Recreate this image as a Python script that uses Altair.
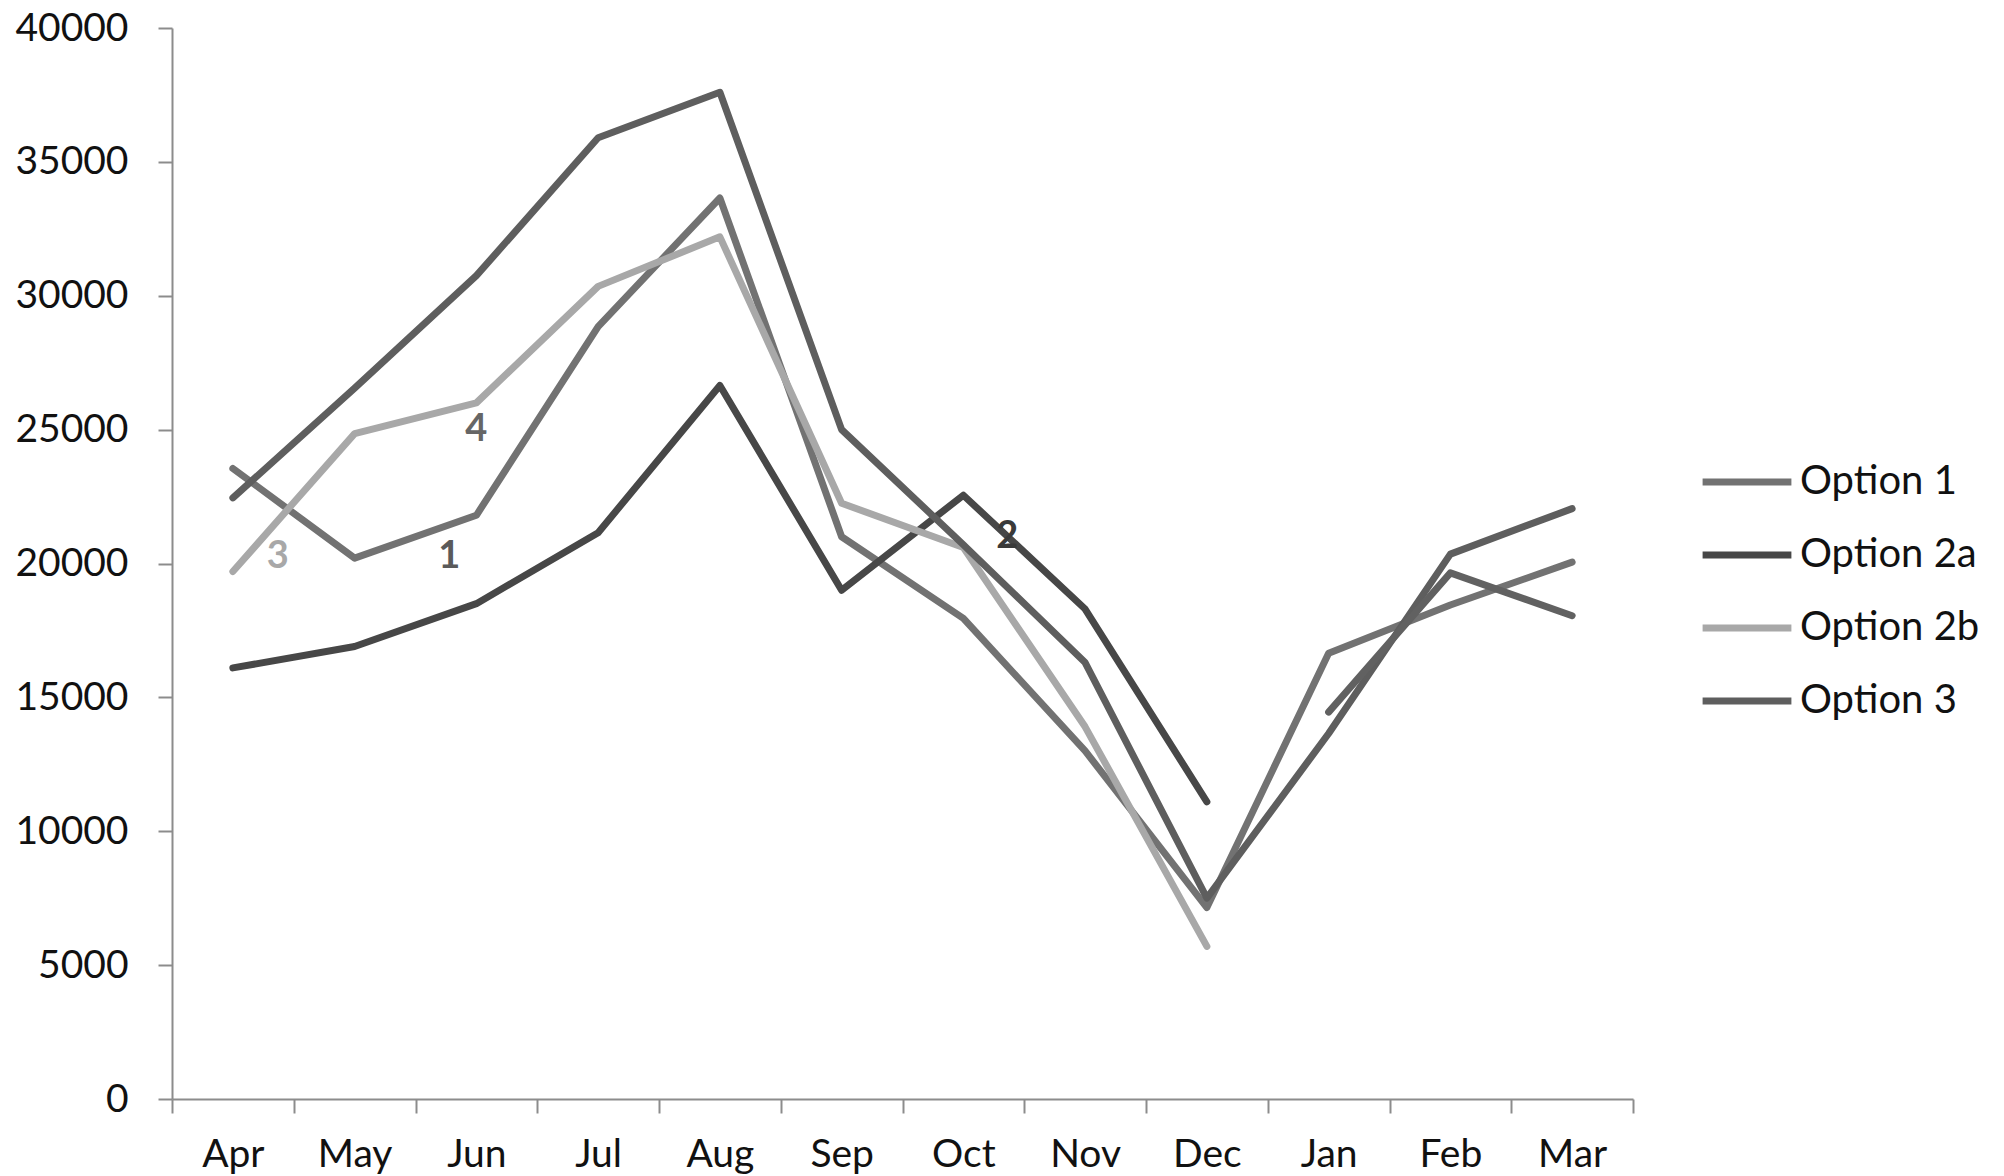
import altair as alt
import pandas as pd

# Monthly totals per option, financial year Apr–Mar
months = ["Apr", "May", "Jun", "Jul", "Aug", "Sep", "Oct", "Nov", "Dec", "Jan", "Feb", "Mar"]
option_1 = [23550, 20200, 21800, 28850, 33650, 21000, 17950, 13000, 7150, 16650, 18450, 20050]
option_2a = [16100, 16900, 18500, 21150, 26650, 19000, 22550, 18300, 11100, None, None, None]
option_2b = [19700, 24850, 26000, 30350, 32200, 22250, 20600, 13900, 5700, None, None, None]
option_3 = [22450, 26550, 30750, 35900, 37600, 25000, 20700, 16300, 7500, 13650, 20350, 22050]
option_2a_q4 = [None] * 9 + [14450, 19650, 18050]

series_names = ["Option 1", "Option 2a", "Option 2b", "Option 3", "Option 2a (Q4)"]
series_values = [option_1, option_2a, option_2b, option_3, option_2a_q4]
series_colors = ["#727272", "#474747", "#a8a8a8", "#5e5e5e", "#616161"]
legend_names = series_names[:4]

# Numbered call-outs placed next to the lines
note_labels = ["3", "1", "4", "2"]
note_months = ["Apr", "Jun", "Jun", "Oct"]
note_values = [20250, 20250, 25000, 21000]
note_dx = [45, -27, 0, 44]
note_colors = ["#a8a8a8", "#5a5a5a", "#666666", "#3a3a3a"]

y_ticks = list(range(0, 40001, 5000))

rows = []
for name, vals in zip(series_names, series_values):
    for i, (m, v) in enumerate(zip(months, vals)):
        if v is not None:
            rows.append({"series": name, "month": m, "idx": i, "value": v})
df = pd.DataFrame(rows)

x_enc = alt.X(
    "month:N",
    sort=months,
    scale=alt.Scale(type="band", paddingInner=0, paddingOuter=0, domain=months),
    axis=alt.Axis(
        title=None,
        labelAngle=0,
        tickBand="extent",
        tickSize=14,
        labelPadding=22,
    ),
)
y_enc = alt.Y(
    "value:Q",
    scale=alt.Scale(domain=[0, 40000], nice=False, zero=True),
    axis=alt.Axis(title=None, values=y_ticks, format="d", tickSize=14, labelPadding=30, grid=False),
)

lines = alt.Chart(df).mark_line(strokeWidth=7, strokeCap="round", strokeJoin="round").encode(
    x=x_enc,
    y=y_enc,
    color=alt.Color(
        "series:N",
        scale=alt.Scale(domain=series_names, range=series_colors),
        legend=alt.Legend(
            title=None,
            values=legend_names,
            orient="none",
            legendX=1553,
            legendY=432,
            symbolType="M-2.4,0H2.4",
            symbolSize=1369,
            symbolStrokeWidth=7,
            symbolFillColor="transparent",
            labelOffset=31,
            rowPadding=31,
            padding=0,
            labelLimit=400,
            labelFont="Lato",
            labelFontSize=40,
            labelColor="#111111",
        ),
    ),
    order=alt.Order("idx:Q"),
)

layers = [lines]
for lab, m, v, dx, c in zip(note_labels, note_months, note_values, note_dx, note_colors):
    note_df = pd.DataFrame({"label": [lab], "month": [m], "value": [v]})
    layers.append(
        alt.Chart(note_df).mark_text(
            font="Lato", fontSize=38, fontWeight="bold", color=c, dx=dx, baseline="middle", align="center"
        ).encode(x=alt.X("month:N", sort=months), y="value:Q", text="label:N")
    )

chart = (
    alt.layer(*layers)
    .properties(
        width=1461,
        height=1071,
        autosize=alt.AutoSizeParams(type="none"),
        padding={"left": 172, "top": 28, "right": 371, "bottom": 77},
        background="white",
    )
    .configure_view(stroke=None)
    .configure_axis(
        domainColor="#8c8c8c",
        domainWidth=2,
        tickColor="#8c8c8c",
        tickWidth=2,
        labelFont="Lato",
        labelFontSize=39,
        labelColor="#111111",
    )
)

chart.save("out.html", embed_options={"renderer": "svg", "actions": False})
